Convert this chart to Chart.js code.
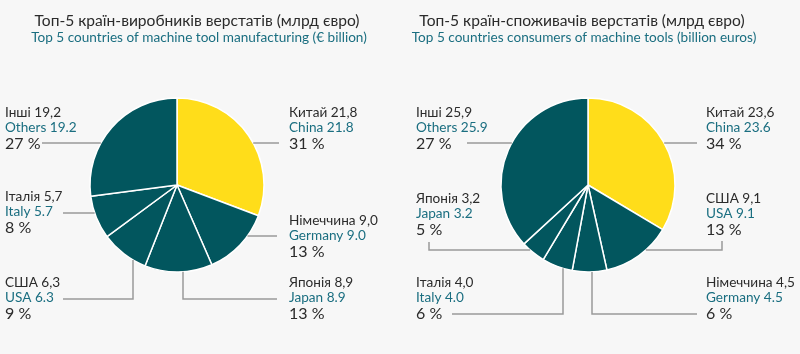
<!DOCTYPE html>
<html>
<head>
<meta charset="utf-8">
<script src="https://cdn.jsdelivr.net/npm/chart.js@4.4.1/dist/chart.umd.min.js"></script>
<style>
  html, body { margin: 0; padding: 0; background: #f7f7f7; }
  .wrap { display: flex; width: 800px; height: 354px; }
  .box { position: relative; width: 400px; height: 354px; }
</style>
</head>
<body>
<div class="wrap">
  <div class="box"><canvas id="makers"></canvas></div>
  <div class="box"><canvas id="users"></canvas></div>
</div>
<script>
// left pie: producers
const makerNamesUk = ['Китай', 'Німеччина', 'Японія', 'США', 'Італія', 'Інші'];
const makerNamesEn = ['China', 'Germany', 'Japan', 'USA', 'Italy', 'Others'];
const makerValues = [21.8, 9.0, 8.9, 6.3, 5.7, 19.2];
const makerShares = [31, 13, 13, 9, 8, 27];

// right pie: consumers
const userNamesUk = ['Китай', 'США', 'Німеччина', 'Італія', 'Японія', 'Інші'];
const userNamesEn = ['China', 'USA', 'Germany', 'Italy', 'Japan', 'Others'];
const userValues = [23.6, 9.1, 4.5, 4.0, 3.2, 25.9];
const userShares = [34, 13, 6, 6, 5, 27];

const makerTitle = ['Топ-5 країн-виробників верстатів (млрд євро)', 'Top 5 countries of machine tool manufacturing (€ billion)'];
const userTitle = ['Топ-5 країн-споживачів верстатів (млрд євро)', 'Top 5 countries consumers of machine tools (billion euros)'];

const YELLOW = '#ffdd1a';
const TEAL = '#02565e';
const FONT = 'Lato, "Noto Sans", sans-serif';

// where each label sits and how its leader line runs (first segment h or v, starting on the pie edge)
const makerLayout = [
  { x: 289, y: 113, dir: 'h', pts: [[279, 143]] },
  { x: 289, y: 221, dir: 'h', pts: [[277, 236]] },
  { x: 289, y: 283, dir: 'v', pts: [[183, 299], [277, 299]] },
  { x: 5, y: 283, dir: 'v', pts: [[133, 299], [63, 299]] },
  { x: 5, y: 197, dir: 'h', pts: [[63, 213]] },
  { x: 5, y: 113, dir: 'h', pts: [[42, 143]] }
];
const userLayout = [
  { x: 306, y: 113, dir: 'h', pts: [[297, 143]] },
  { x: 306, y: 199, dir: 'h', pts: [[322, 250], [322, 241]] },
  { x: 306, y: 283, dir: 'v', pts: [[192, 314], [297, 314]] },
  { x: 16, y: 283, dir: 'v', pts: [[163, 314], [52, 314]] },
  { x: 16, y: 199, dir: 'h', pts: [[29, 250], [29, 242]] },
  { x: 16, y: 113, dir: 'h', pts: [[67, 143]] }
];

const pieLabels = {
  id: 'pieLabels',
  afterDraw(chart, args, opts) {
    const ctx = chart.ctx;
    const arc = chart.getDatasetMeta(0).data[0];
    const cx = arc.x, cy = arc.y, r = arc.outerRadius;
    const vals = chart.data.datasets[0].data;

    ctx.save();
    // titles
    ctx.textAlign = 'center';
    ctx.textBaseline = 'middle';
    ctx.fillStyle = '#2b2b2b';
    ctx.font = '15.6px ' + FONT;
    ctx.fillText(opts.title[0], opts.titleX, 21);
    ctx.fillStyle = '#1a6e80';
    ctx.font = '13.6px ' + FONT;
    ctx.fillText(opts.title[1], opts.titleX + 2, 38);

    opts.layout.forEach(function(l, i) {
      // leader line
      const p0 = l.pts[0];
      let sx, sy;
      if (l.dir === 'h') {
        sy = p0[1];
        const d = Math.sqrt(Math.max(r * r - (sy - cy) * (sy - cy), 0));
        sx = p0[0] > cx ? cx + d : cx - d;
      } else {
        sx = p0[0];
        const d = Math.sqrt(Math.max(r * r - (sx - cx) * (sx - cx), 0));
        sy = p0[1] > cy ? cy + d : cy - d;
      }
      ctx.strokeStyle = '#9a9a9a';
      ctx.lineWidth = 1.5;
      ctx.beginPath();
      ctx.moveTo(sx, sy);
      l.pts.forEach(function(p) { ctx.lineTo(p[0], p[1]); });
      ctx.stroke();

      // three text rows
      ctx.textAlign = 'left';
      ctx.textBaseline = 'middle';
      ctx.fillStyle = '#2b2b2b';
      ctx.font = '13.6px ' + FONT;
      ctx.fillText(opts.uk[i] + ' ' + vals[i].toFixed(1).replace('.', ','), l.x, l.y);
      ctx.fillStyle = '#1a6e80';
      ctx.font = '13.6px ' + FONT;
      ctx.fillText(opts.en[i] + ' ' + vals[i].toFixed(1), l.x, l.y + 15);
      ctx.fillStyle = '#2b2b2b';
      ctx.font = '16px ' + FONT;
      ctx.fillText(opts.shares[i] + ' %', l.x, l.y + 31);
    });
    ctx.restore();
  }
};

function makePie(id, uk, en, values, shares, layout, title, titleX, pad) {
  const colors = values.map(function(v, i) { return i === 0 ? YELLOW : TEAL; });
  return new Chart(document.getElementById(id), {
    type: 'pie',
    data: {
      labels: en,
      datasets: [{
        data: values,
        backgroundColor: colors,
        borderColor: '#ffffff',
        borderWidth: 1.5
      }]
    },
    options: {
      responsive: true,
      maintainAspectRatio: false,
      animation: false,
      radius: 87,
      layout: { padding: pad },
      events: [],
      plugins: {
        legend: { display: false },
        tooltip: { enabled: false },
        pieLabels: { uk: uk, en: en, shares: shares, layout: layout, title: title, titleX: titleX }
      }
    },
    plugins: [pieLabels]
  });
}

makePie('makers', makerNamesUk, makerNamesEn, makerValues, makerShares, makerLayout, makerTitle, 197,
  { left: 90, right: 136, top: 98, bottom: 82 });
makePie('users', userNamesUk, userNamesEn, userValues, userShares, userLayout, userTitle, 182,
  { left: 101, right: 125, top: 98, bottom: 82 });
</script>
</body>
</html>
